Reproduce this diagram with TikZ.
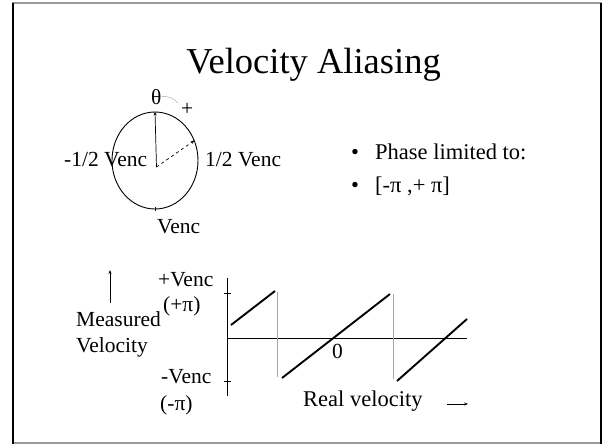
\documentclass[tikz,border=0pt]{standalone}
\usepackage{fontspec}
\setmainfont{Liberation Serif}
\usetikzlibrary{arrows.meta,shapes.geometric,calc}

\begin{document}
\begin{tikzpicture}[
  x=1pt, y=-1pt,
  title/.style={font=\fontsize{36.5}{40}\selectfont, inner sep=0pt, anchor=base},
  lab/.style={font=\fontsize{21.5}{25}\selectfont, inner sep=0pt, anchor=base west},
  biglab/.style={lab, font=\fontsize{22.5}{26}\selectfont},
  saw/.style={line width=1.9pt},
  guide/.style={gray!70, line width=0.5pt},
  arr/.style={-{Stealth[length=4pt,width=3pt]}, line width=0.7pt},
]
\useasboundingbox (0,0) rectangle (604,444);
% ---- frame ----
\draw[gray!80, line width=1.4pt] (12,3) -- (602,3);
\draw[gray!80, line width=1.4pt] (12,443) -- (602,443);
\draw[line width=2.2pt] (13,3) -- (13,444);
\draw[line width=2.2pt] (601,3) -- (601,444);
% ---- title ----
\node[title] (ttl) at (313.5,73) {Velocity Aliasing};
% ---- phase circle ----
\node[draw, ellipse, line width=0.9pt, minimum width=86pt, minimum height=97pt, inner sep=0pt] (circ) at (155,160.5) {};
\coordinate (ctr) at (156.5,167);
\draw[arr] (ctr) -- (circ.north);
\draw[arr, dashed] (ctr) -- (circ.27);
\draw[line width=0.7pt] ($(circ.south)+(0,-2)$) -- ++(0,4);
\node[lab] (theta) at (151,104) {θ};
\node[lab] (plus) at (181,115) {+};
\draw[gray!70, line width=0.4pt] (theta.east) to[bend left=25] ($(plus.west)+(-3,-6)$);
\node[lab] (lhalf) at (64,166) {-1/2 Venc};
\node[lab] (rhalf) at (205,166) {1/2 Venc};
\node[lab] (venc) at (157,233) {Venc};
% ---- bullets ----
\node[biglab] (bul1) at (351,159) {•};
\node[biglab] (phase) at (375,159) {Phase limited to:};
\node[biglab] (bul2) at (351,192) {•};
\node[biglab] (range) at (375,192) {[-π ,+ π]};
% ---- aliasing plot ----
\coordinate (ytop) at (227.5,278);
\coordinate (ybot) at (227.5,396);
\coordinate (orig) at (227.5,338.5);
\coordinate (xend) at (467,338.5);
\draw[line width=0.7pt] (ytop) -- (ybot);
\draw[line width=0.7pt] (orig) -- (xend);
\draw[line width=0.7pt] (224,293) -- (231,293);
\draw[line width=0.7pt] (224,381) -- (231,381);
\draw[saw] (231,325) -- (275,291);
\draw[guide] (277,292) -- (277,377);
\draw[saw] (282,378) -- (390,294);
\draw[guide] (393,294) -- (393,379);
\draw[saw] (397,381) -- (467,319);
\node[lab] (zero) at (332,358) {0};
\node[lab] (pven) at (158,286) {+Venc};
\node[lab] (ppi) at (163,311) {(+π)};
\node[lab] (mven) at (161,383) {-Venc};
\node[lab] (mpi) at (160,410) {(-π)};
\node[lab] (meas) at (76,326) {Measured};
\node[lab] (vel) at (76,352) {Velocity};
\coordinate (mv0) at (110,303);
\coordinate (mv1) at (110,270);
\draw[arr] (mv0) -- (mv1);
\node[biglab] (real) at (303,406) {Real velocity};
\coordinate (rv0) at (447,404);
\coordinate (rv1) at (468,404);
\draw[arr] (rv0) -- (rv1);
\end{tikzpicture}
\end{document}
